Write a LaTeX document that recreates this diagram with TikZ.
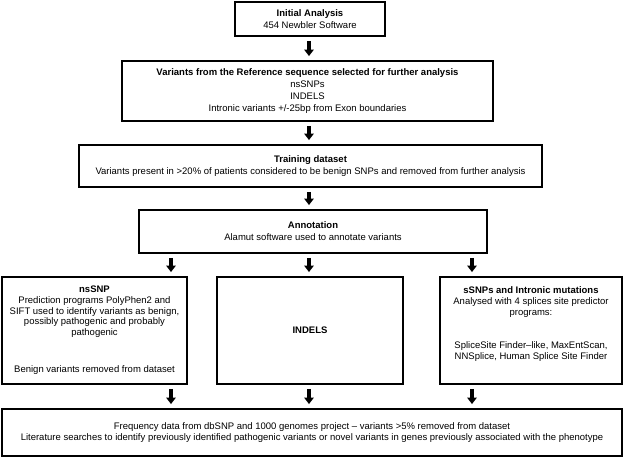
\documentclass[tikz,border=0pt]{standalone}
\usepackage{fontspec}
\setmainfont{Liberation Sans}
\usetikzlibrary{arrows.meta}
\begin{document}
\begin{tikzpicture}[x=1pt,y=-1pt,
  box/.style={draw, line width=1.9pt, align=center, inner sep=0pt,
    font=\fontsize{9.5}{11.8}\selectfont},
  tight/.style={font=\fontsize{9.5}{10.6}\selectfont},
  arr/.style={line width=3.2pt, -{Triangle[width=9.5pt,length=6.5pt]},
    shorten <=4pt, shorten >=4pt},
]
\useasboundingbox (0,0) rectangle (625,458);
\node[box, minimum width=150pt, minimum height=34pt] (b1) at (310,19)
  {\textbf{Initial Analysis}\\454 Newbler Software};
\node[box, minimum width=371pt, minimum height=60pt] (b2) at (307.5,91)
  {\textbf{Variants from the Reference sequence selected for further analysis}\\nsSNPs\\INDELS\\Intronic variants +/-25bp from Exon boundaries};
\node[box, minimum width=463pt, minimum height=42pt] (b3) at (310.5,166)
  {\textbf{Training dataset}\\Variants present in >20\% of patients considered to be benign SNPs and removed from further analysis};
\node[box, minimum width=348pt, minimum height=43pt] (b4) at (313,231.5)
  {\textbf{Annotation}\\Alamut software used to annotate variants};
\node[box, tight, minimum width=185pt, minimum height=107pt] (left) at (94.5,330.5)
  {\textbf{nsSNP}\\Prediction programs PolyPhen2 and\\SIFT used to identify variants as benign,\\possibly pathogenic and probably\\pathogenic\\[27pt]Benign variants removed from dataset};
\node[box, minimum width=186pt, minimum height=107pt] (mid) at (310,330.5)
  {\textbf{INDELS}};
\node[box, tight, minimum width=182pt, minimum height=107pt] (right) at (531,330.5)
  {\textbf{sSNPs and Intronic mutations}\\Analysed with 4 splices site predictor\\programs:\\[23pt]SpliceSite Finder–like, MaxEntScan,\\NNSplice, Human Splice Site Finder\\[4pt]\mbox{}};
\node[box, minimum width=620pt, minimum height=47pt] (bot) at (312,432.5)
  {Frequency data from dbSNP and 1000 genomes project – variants >5\% removed from dataset\\Literature searches to identify previously identified pathogenic variants or novel variants in genes previously associated with the phenotype};
\coordinate (xa) at (171,0);
\coordinate (xb) at (309,0);
\coordinate (xc) at (472,0);
\draw[arr] (b1.south -| xb) -- (b2.north -| xb);
\draw[arr] (b2.south -| xb) -- (b3.north -| xb);
\draw[arr] (b3.south -| xb) -- (b4.north -| xb);
\draw[arr] (b4.south -| xa) -- (left.north -| xa);
\draw[arr] (b4.south -| xb) -- (mid.north -| xb);
\draw[arr] (b4.south -| xc) -- (right.north -| xc);
\draw[arr] (left.south -| xa) -- (bot.north -| xa);
\draw[arr] (mid.south -| xb) -- (bot.north -| xb);
\draw[arr] (right.south -| xc) -- (bot.north -| xc);
\end{tikzpicture}
\end{document}
